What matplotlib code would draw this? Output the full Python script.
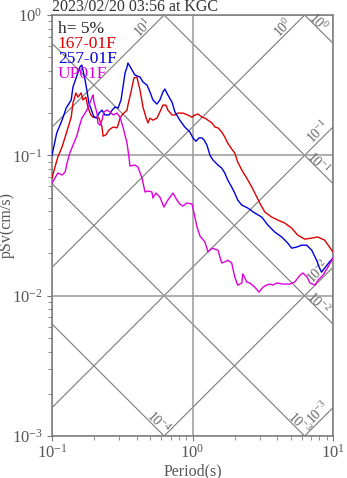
import numpy as np
import matplotlib
matplotlib.use("Agg")
import matplotlib.pyplot as plt

# --- data (period in s, pSv in cm/s) ---
title = "2023/02/20 03:56 at KGC"
damping_label = "h= 5%"
series_names = ["167-01F", "257-01F", "UP01F"]

period_167 = [0.100, 0.105, 0.110, 0.118, 0.124, 0.130, 0.137, 0.141, 0.148, 0.153,
              0.161, 0.166, 0.174, 0.180, 0.189, 0.196, 0.209, 0.216, 0.227, 0.231,
              0.242, 0.255, 0.272, 0.290, 0.295, 0.305, 0.315, 0.325, 0.342, 0.347,
              0.365, 0.383, 0.402, 0.423, 0.444, 0.466, 0.482, 0.498, 0.523, 0.558,
              0.586, 0.616, 0.647, 0.668, 0.714, 0.750, 0.787, 0.854, 0.925, 0.992,
              1.042, 1.094, 1.168, 1.227, 1.289, 1.376, 1.445, 1.517, 1.613, 1.697,
              1.782, 1.901, 1.997, 2.098, 2.244, 2.357, 2.476, 2.643, 2.776, 3.013,
              3.271, 3.665, 4.043, 4.534, 5.082, 5.607, 6.289, 7.052, 7.771, 8.711,
              9.444, 10.0]
psv_167 = [0.0689, 0.0825, 0.0972, 0.115, 0.135, 0.157, 0.187, 0.236, 0.278, 0.260,
           0.278, 0.248, 0.260, 0.221, 0.194, 0.187, 0.187, 0.184, 0.159, 0.137,
           0.140, 0.152, 0.159, 0.157, 0.164, 0.184, 0.194, 0.200, 0.210, 0.228,
           0.283, 0.356, 0.361, 0.292, 0.221, 0.187, 0.170, 0.184, 0.178, 0.184,
           0.204, 0.228, 0.228, 0.210, 0.194, 0.194, 0.200, 0.200, 0.194, 0.187,
           0.194, 0.197, 0.187, 0.184, 0.178, 0.170, 0.159, 0.157, 0.147, 0.135,
           0.122, 0.111, 0.104, 0.0896, 0.0786, 0.0724, 0.0667, 0.0594, 0.0539, 0.0457,
           0.0394, 0.0363, 0.0346, 0.0329, 0.0303, 0.0270, 0.0253, 0.0257, 0.0262, 0.0249,
           0.0222, 0.0205]

period_257 = [0.100, 0.108, 0.114, 0.120, 0.126, 0.130, 0.137, 0.141, 0.151, 0.158,
              0.163, 0.166, 0.172, 0.177, 0.183, 0.193, 0.199, 0.209, 0.216, 0.227,
              0.238, 0.255, 0.268, 0.281, 0.295, 0.310, 0.320, 0.331, 0.342, 0.347,
              0.371, 0.389, 0.423, 0.444, 0.474, 0.498, 0.523, 0.558, 0.586, 0.616,
              0.636, 0.668, 0.714, 0.750, 0.813, 0.882, 0.956, 1.008, 1.059, 1.112,
              1.168, 1.207, 1.268, 1.332, 1.399, 1.517, 1.613, 1.697, 1.782, 1.901,
              1.997, 2.098, 2.244, 2.476, 2.776, 3.113, 3.434, 3.851, 4.316, 4.762,
              5.082, 5.515, 5.985, 6.497, 7.052, 7.644, 8.029, 8.294, 8.711, 9.444,
              10.0]
psv_257 = [0.100, 0.144, 0.164, 0.187, 0.217, 0.228, 0.248, 0.307, 0.374, 0.426,
           0.440, 0.406, 0.344, 0.292, 0.236, 0.204, 0.187, 0.184, 0.200, 0.210,
           0.194, 0.194, 0.210, 0.221, 0.217, 0.248, 0.307, 0.386, 0.426, 0.455,
           0.406, 0.374, 0.361, 0.333, 0.317, 0.283, 0.248, 0.232, 0.248, 0.283,
           0.297, 0.269, 0.240, 0.204, 0.178, 0.159, 0.147, 0.133, 0.126, 0.133,
           0.133, 0.129, 0.118, 0.100, 0.0926, 0.0853, 0.0812, 0.0748, 0.0667, 0.0594,
           0.0539, 0.0480, 0.0442, 0.0421, 0.0388, 0.0363, 0.0319, 0.0284, 0.0262, 0.0237,
           0.0218, 0.0222, 0.0229, 0.0229, 0.0211, 0.0179, 0.0157, 0.0147, 0.0157, 0.0174,
           0.0185]

period_up = [0.100, 0.105, 0.110, 0.118, 0.124, 0.128, 0.134, 0.141, 0.151, 0.156,
             0.163, 0.172, 0.180, 0.186, 0.193, 0.196, 0.199, 0.209, 0.212, 0.220,
             0.227, 0.234, 0.246, 0.259, 0.272, 0.290, 0.305, 0.320, 0.342, 0.353,
             0.359, 0.389, 0.409, 0.437, 0.459, 0.482, 0.514, 0.523, 0.549, 0.586,
             0.626, 0.668, 0.726, 0.774, 0.813, 0.854, 0.910, 0.992, 1.025, 1.077,
             1.131, 1.227, 1.289, 1.376, 1.517, 1.613, 1.697, 1.782, 1.901, 1.997,
             2.098, 2.244, 2.281, 2.436, 2.558, 2.776, 2.973, 3.176, 3.377, 3.548,
             3.725, 3.977, 4.406, 4.943, 5.338, 5.823, 6.115, 6.530, 6.860, 7.450,
             7.820, 8.490, 9.210, 10.0]
psv_up = [0.0635, 0.0689, 0.0748, 0.0724, 0.0760, 0.0881, 0.104, 0.118, 0.140, 0.159,
          0.184, 0.200, 0.217, 0.236, 0.260, 0.269, 0.240, 0.200, 0.170, 0.164,
          0.178, 0.204, 0.210, 0.204, 0.194, 0.200, 0.187, 0.159, 0.122, 0.0972,
          0.0839, 0.0853, 0.0825, 0.0689, 0.0548, 0.0557, 0.0548, 0.0496, 0.0539, 0.0504,
          0.0428, 0.0480, 0.0539, 0.0480, 0.0450, 0.0435, 0.0457, 0.0450, 0.0388, 0.0308,
          0.0266, 0.0241, 0.0205, 0.0218, 0.0211, 0.0171, 0.0174, 0.0179, 0.0171, 0.0136,
          0.0119, 0.0123, 0.0143, 0.0125, 0.0123, 0.0115, 0.0106, 0.0115, 0.0119, 0.0121,
          0.0119, 0.0123, 0.0121, 0.0121, 0.0125, 0.0140, 0.0145, 0.0136, 0.0123, 0.0119,
          0.0129, 0.0140, 0.0160, 0.0185]

series_colors = ["#dd0000", "#0000dd", "#dd00dd"]

# tripartite guide levels: acceleration (cm/s^2) and displacement (cm)
acc_levels = [1e1, 1e0, 1e-1, 1e-2, 1e-3]
disp_levels = [1e0, 1e-1, 1e-2, 1e-3, 1e-4]

plt.rcParams["font.family"] = ["Liberation Serif", "DejaVu Serif"]
plt.rcParams["mathtext.fontset"] = "custom"
plt.rcParams["mathtext.rm"] = "Liberation Serif"

fig = plt.figure(figsize=(3.47, 4.78), dpi=100)
ax = fig.add_axes([52 / 347, 42 / 478, 281 / 347, 421 / 478])

tmin, tmax = 0.1, 10.0
vmin, vmax = 1e-3, 1.0
ax.set_xscale("log")
ax.set_yscale("log")
ax.set_xlim(tmin, tmax)
ax.set_ylim(vmin, vmax)

grey_line = "#7a7a7a"
ax.grid(True, which="major", color="#999999", lw=1.1)

# diagonal guides
tt = np.array([tmin, tmax])
w = 2 * np.pi
for a in acc_levels:
    ax.plot(tt, a * tt / w, color=grey_line, lw=0.8, zorder=1)
for d in disp_levels:
    ax.plot(tt, w * d / tt, color=grey_line, lw=0.8, zorder=1)


def exp_label(v):
    return r"$\mathdefault{10^{%d}}$" % int(round(np.log10(v)))


lab_kw = dict(textcoords="offset points", fontsize=10, color="#666666",
              ha="center", va="center", annotation_clip=False)
for a in acc_levels:
    t_top = vmax * w / a
    if t_top <= tmax:
        ax.annotate(exp_label(a), xy=(t_top, vmax), xytext=(-15, -9.5), rotation=45, **lab_kw)
    else:
        ax.annotate(exp_label(a), xy=(tmax, a * tmax / w), xytext=(-10.5, -3.5), rotation=45, **lab_kw)
for d in disp_levels:
    t_bot = w * d / vmin
    if t_bot <= tmax:
        ax.annotate(exp_label(d), xy=(t_bot, vmin), xytext=(-4, 9.5), rotation=-45, **lab_kw)
    else:
        ax.annotate(exp_label(d), xy=(tmax, w * d / tmax), xytext=(-10.5, 15), rotation=-45, **lab_kw)

# spectra
for p, v, c in zip([period_167, period_257, period_up],
                   [psv_167, psv_257, psv_up], series_colors):
    ax.plot(p, v, color=c, lw=1.0, zorder=3)

# labels inside the axes
ax.text(0.021, 0.957, damping_label, transform=ax.transAxes, fontsize=12.5,
        color="#222222", va="baseline")
for i, (name, c) in enumerate(zip(series_names, series_colors)):
    ax.text(0.021, 0.957 - 0.0356 * (i + 1), name, transform=ax.transAxes,
            fontsize=12.5, color=c, va="baseline")

fig.text(52 / 347, 1 - 11 / 478, title, fontsize=11.5, color="#333333", va="baseline")

for s in ax.spines.values():
    s.set_color(grey_line)
    s.set_linewidth(1.1)
ax.tick_params(which="both", direction="out", colors=grey_line, labelcolor="#555555",
               labelsize=12, top=False, right=False)
ax.tick_params(which="major", length=3.5)
ax.tick_params(which="minor", length=2.8)
ax.tick_params(axis="x", which="major", pad=2)
ax.set_xlabel("Period(s)", fontsize=11.5, color="#555555")
ax.set_ylabel("pSv(cm/s)", fontsize=11.5, color="#555555")
ax.xaxis.set_label_coords(0.5, -27 / 421)
ax.yaxis.set_label_coords(-37 / 281, 0.5)

fig.savefig("out.png", dpi=100)
